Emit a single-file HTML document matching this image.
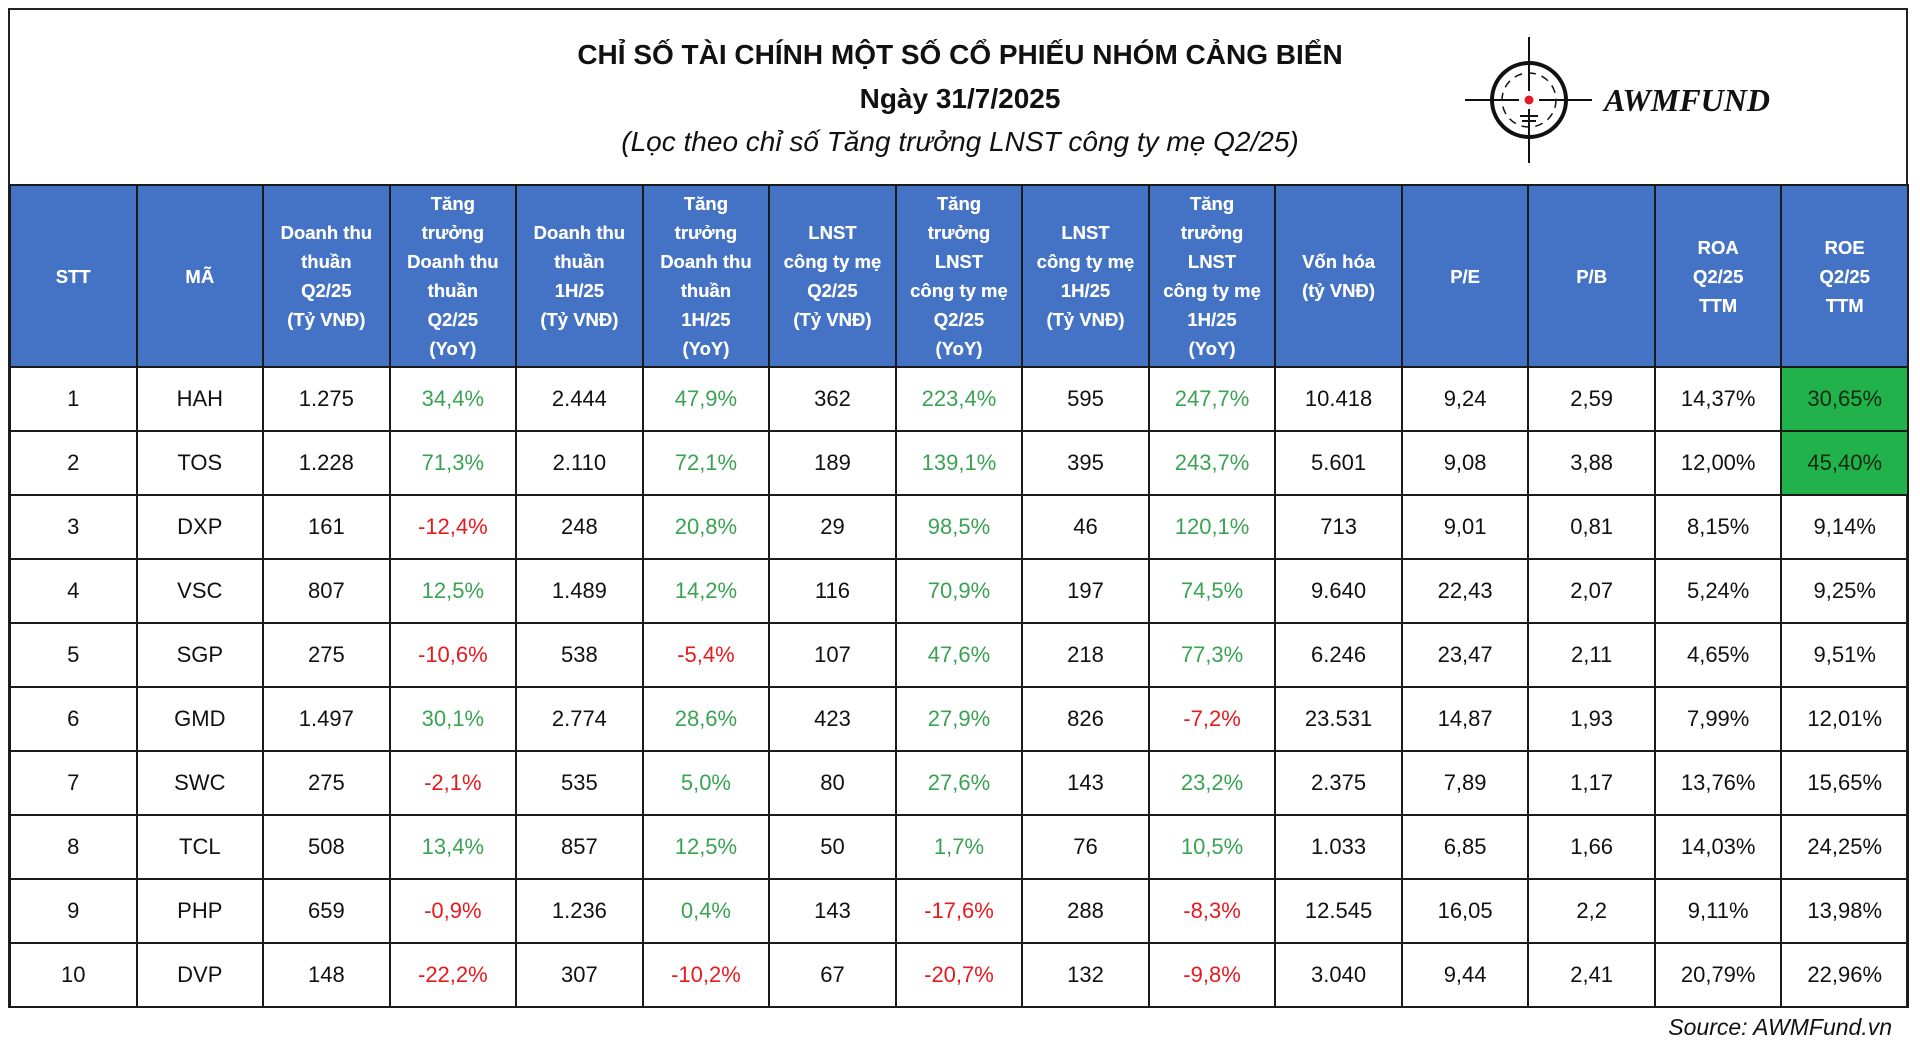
<!DOCTYPE html>
<html><head><meta charset="utf-8">
<style>
html,body{margin:0;padding:0;background:#fff;}
body{width:1920px;height:1056px;position:relative;overflow:hidden;font-family:"Liberation Sans",sans-serif;}
#frame{position:absolute;left:8px;top:8px;width:1900px;height:1000px;border:2px solid #222;box-sizing:border-box;}
.t{position:absolute;left:0;width:1920px;text-align:center;color:#111;}
#t1{top:39px;font-size:28px;font-weight:bold;}
#t2{top:83px;font-size:28px;font-weight:bold;}
#t3{top:126px;font-size:28px;font-style:italic;}
table{position:absolute;left:9px;top:184px;border-collapse:collapse;table-layout:fixed;width:1900px;}
td,th{border:2px solid #1a1a1a;text-align:center;padding:0;}
th{background:#4472C4;color:#fff;font-size:18.5px;font-weight:bold;line-height:29px;height:180px;text-shadow:0 0 0.4px #fff;}
td{height:62px;font-size:22px;color:#111;}
.g{color:#3aa353;}
.r{color:#e8191d;}
.hl{background:#22B24C;color:#0c2a10;}
#src{position:absolute;right:28px;top:1014px;font-size:23px;font-style:italic;color:#111;}
#logo{position:absolute;left:1464px;top:35px;}
#brand{position:absolute;left:1604px;top:82px;font-family:"Liberation Serif",serif;font-style:italic;font-weight:bold;font-size:32px;color:#111;}
</style></head><body>
<div id="frame"></div>
<div class="t" id="t1">CHỈ SỐ TÀI CHÍNH MỘT SỐ CỔ PHIẾU NHÓM CẢNG BIỂN</div>
<div class="t" id="t2">Ngày 31/7/2025</div>
<div class="t" id="t3">(Lọc theo chỉ số Tăng trưởng LNST công ty mẹ Q2/25)</div>
<svg id="logo" width="130" height="130" viewBox="0 0 130 130">
<circle cx="65" cy="65" r="37" fill="none" stroke="#111" stroke-width="4"/>
<circle cx="65" cy="65" r="27" fill="none" stroke="#111" stroke-width="1.5" stroke-dasharray="8 6"/>
<line x1="65" y1="2" x2="65" y2="128" stroke="#111" stroke-width="2"/>
<line x1="1" y1="65" x2="128" y2="65" stroke="#111" stroke-width="2"/>
<rect x="55" y="56" width="20" height="18" fill="#fff"/>
<circle cx="65" cy="65" r="4.5" fill="#e31b23"/>
<line x1="56" y1="81" x2="74" y2="81" stroke="#111" stroke-width="2"/>
<line x1="58" y1="86" x2="72" y2="86" stroke="#111" stroke-width="2"/>
</svg>
<div id="brand">AWMFUND</div>
<table id="tbl">
<thead><tr>
<th>STT</th><th>MÃ</th><th>Doanh thu<br>thuần<br>Q2/25<br>(Tỷ VNĐ)</th><th>Tăng<br>trưởng<br>Doanh thu<br>thuần<br>Q2/25<br>(YoY)</th><th>Doanh thu<br>thuần<br>1H/25<br>(Tỷ VNĐ)</th><th>Tăng<br>trưởng<br>Doanh thu<br>thuần<br>1H/25<br>(YoY)</th><th>LNST<br>công ty mẹ<br>Q2/25<br>(Tỷ VNĐ)</th><th>Tăng<br>trưởng<br>LNST<br>công ty mẹ<br>Q2/25<br>(YoY)</th><th>LNST<br>công ty mẹ<br>1H/25<br>(Tỷ VNĐ)</th><th>Tăng<br>trưởng<br>LNST<br>công ty mẹ<br>1H/25<br>(YoY)</th><th>Vốn hóa<br>(tỷ VNĐ)</th><th>P/E</th><th>P/B</th><th>ROA<br>Q2/25<br>TTM</th><th>ROE<br>Q2/25<br>TTM</th>
</tr></thead>
<tbody id="body"></tbody>
</table>
<div id="src">Source: AWMFund.vn</div>
<script>
const tickers=["HAH","TOS","DXP","VSC","SGP","GMD","SWC","TCL","PHP","DVP"];
const revQ2=["1.275","1.228","161","807","275","1.497","275","508","659","148"];
const revQ2g=["34,4%","71,3%","-12,4%","12,5%","-10,6%","30,1%","-2,1%","13,4%","-0,9%","-22,2%"];
const rev1H=["2.444","2.110","248","1.489","538","2.774","535","857","1.236","307"];
const rev1Hg=["47,9%","72,1%","20,8%","14,2%","-5,4%","28,6%","5,0%","12,5%","0,4%","-10,2%"];
const npQ2=["362","189","29","116","107","423","80","50","143","67"];
const npQ2g=["223,4%","139,1%","98,5%","70,9%","47,6%","27,9%","27,6%","1,7%","-17,6%","-20,7%"];
const np1H=["595","395","46","197","218","826","143","76","288","132"];
const np1Hg=["247,7%","243,7%","120,1%","74,5%","77,3%","-7,2%","23,2%","10,5%","-8,3%","-9,8%"];
const mcap=["10.418","5.601","713","9.640","6.246","23.531","2.375","1.033","12.545","3.040"];
const pe=["9,24","9,08","9,01","22,43","23,47","14,87","7,89","6,85","16,05","9,44"];
const pb=["2,59","3,88","0,81","2,07","2,11","1,93","1,17","1,66","2,2","2,41"];
const roa=["14,37%","12,00%","8,15%","5,24%","4,65%","7,99%","13,76%","14,03%","9,11%","20,79%"];
const roe=["30,65%","45,40%","9,14%","9,25%","9,51%","12,01%","15,65%","24,25%","13,98%","22,96%"];
const tb=document.getElementById('body');
for(let i=0;i<tickers.length;i++){
  const tr=document.createElement('tr');
  
  
  const cells=[String(i+1),tickers[i],revQ2[i],revQ2g[i],rev1H[i],rev1Hg[i],npQ2[i],npQ2g[i],np1H[i],np1Hg[i],mcap[i],pe[i],pb[i],roa[i],roe[i]];
  const growth=[3,5,7,9];
  cells.forEach((v,j)=>{
    const td=document.createElement('td');
    
    
    td.textContent=v;
    if(growth.includes(j)) td.className=v.startsWith('-')?'r':'g';
    if(j===14 && i<2) td.className='hl';
    tr.appendChild(td);
  });
  tb.appendChild(tr);
}
</script>
</body></html>
